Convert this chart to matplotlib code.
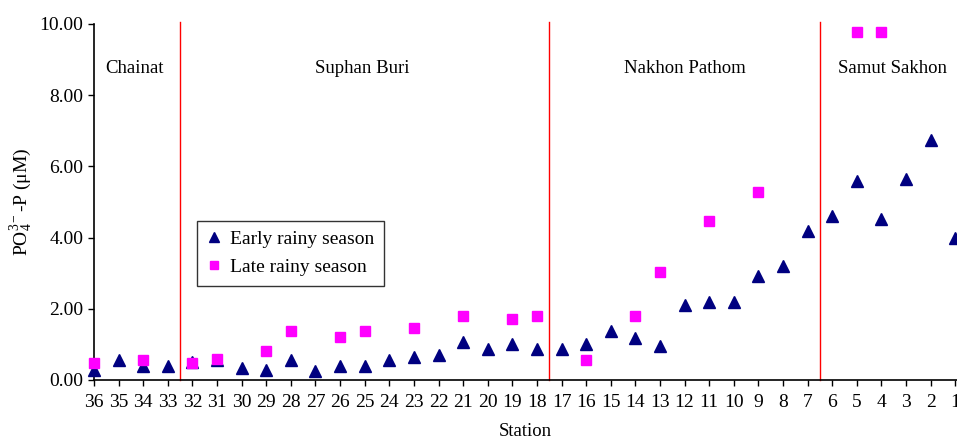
import numpy as np
import matplotlib
matplotlib.use("Agg")
import matplotlib.pyplot as plt

plt.rcParams['font.family'] = ['Liberation Serif', 'DejaVu Serif']
plt.rcParams['mathtext.fontset'] = 'custom'
plt.rcParams['mathtext.rm'] = 'Liberation Serif'
plt.rcParams['mathtext.it'] = 'Liberation Serif:italic'

# Stations from upstream (36) to the river mouth (1)
stations = list(range(36, 0, -1))

# PO4-P (µM), early rainy season, in station order 36 -> 1
early = [0.28, 0.56, 0.40, 0.40, 0.50, 0.55, 0.35, 0.28, 0.56, 0.26,
         0.40, 0.40, 0.56, 0.66, 0.70, 1.08, 0.86, 1.00, 0.86, 0.86,
         1.00, 1.38, 1.17, 0.95, 2.10, 2.19, 2.19, 2.92, 3.21, 4.19,
         4.62, 5.59, 4.52, 5.64, 6.74, 3.98]

# PO4-P (µM), late rainy season (nan = no sample)
nan = np.nan
late = [0.49, nan, 0.56, nan, 0.48, 0.60, nan, 0.82, 1.38, nan,
        1.20, 1.38, nan, 1.45, nan, 1.80, nan, 1.70, 1.80, nan,
        0.56, nan, 1.80, 3.02, nan, 4.47, nan, 5.29, nan, nan,
        nan, 9.77, 9.77, nan, nan, nan]

# Province boundaries (between stations) and labels
boundaries = [(33, 32), (18, 17), (7, 6)]
regions = ["Chainat", "Suphan Buri", "Nakhon Pathom", "Samut Sakhon"]
region_x = [1.65, 10.9, 24.0, 32.45]

fig = plt.figure(figsize=(9.57, 4.43), dpi=100)
ax = fig.add_axes([94/957, 63/443, 863/957, 356/443])

x = np.arange(len(stations))
ax.plot(x, early, linestyle='none', marker='^', color='#000080',
        markersize=9, label='Early rainy season', clip_on=False, zorder=3)
ax.plot(x, late, linestyle='none', marker='s', color='#FF00FF',
        markersize=7.5, label='Late rainy season', clip_on=False, zorder=3)

for a, b in boundaries:
    pos = (stations.index(a) + stations.index(b)) / 2
    ax.plot([pos, pos], [0, 10.05], color='#FF0000', lw=1.0, clip_on=False, zorder=2)

for name, rx in zip(regions, region_x):
    ax.text(rx, 8.75, name, ha='center', va='center', fontsize=13.5)

ax.set_xlim(0, 35.07)
ax.set_ylim(0, 10)
ax.set_xticks(x)
ax.set_xticklabels([str(s) for s in stations], fontsize=14)
ax.set_yticks(np.arange(0, 10.01, 2))
ax.set_yticklabels([f"{v:.2f}" for v in np.arange(0, 10.01, 2)], fontsize=14)
ax.tick_params(direction='out', length=4, width=1, color='black')
ax.tick_params(axis='x', pad=6)

for side in ('top', 'right'):
    ax.spines[side].set_visible(False)
for side in ('left', 'bottom'):
    ax.spines[side].set_linewidth(1.2)

ax.set_xlabel("Station", fontsize=13.5, labelpad=9)
ax.set_ylabel(r"PO$_4^{3-}$-P ($\mathrm{\mu}$M)", fontsize=14, labelpad=4)

leg = ax.legend(loc='lower left', bbox_to_anchor=(0.119, 0.264), borderaxespad=0,
                fontsize=14, frameon=True, fancybox=False, markerscale=0.75,
                handlelength=0.8, handletextpad=0.4, borderpad=0.5,
                labelspacing=0.55)
leg.get_frame().set_edgecolor('black')
leg.get_frame().set_linewidth(1.0)

fig.savefig("out.png", dpi=100)
